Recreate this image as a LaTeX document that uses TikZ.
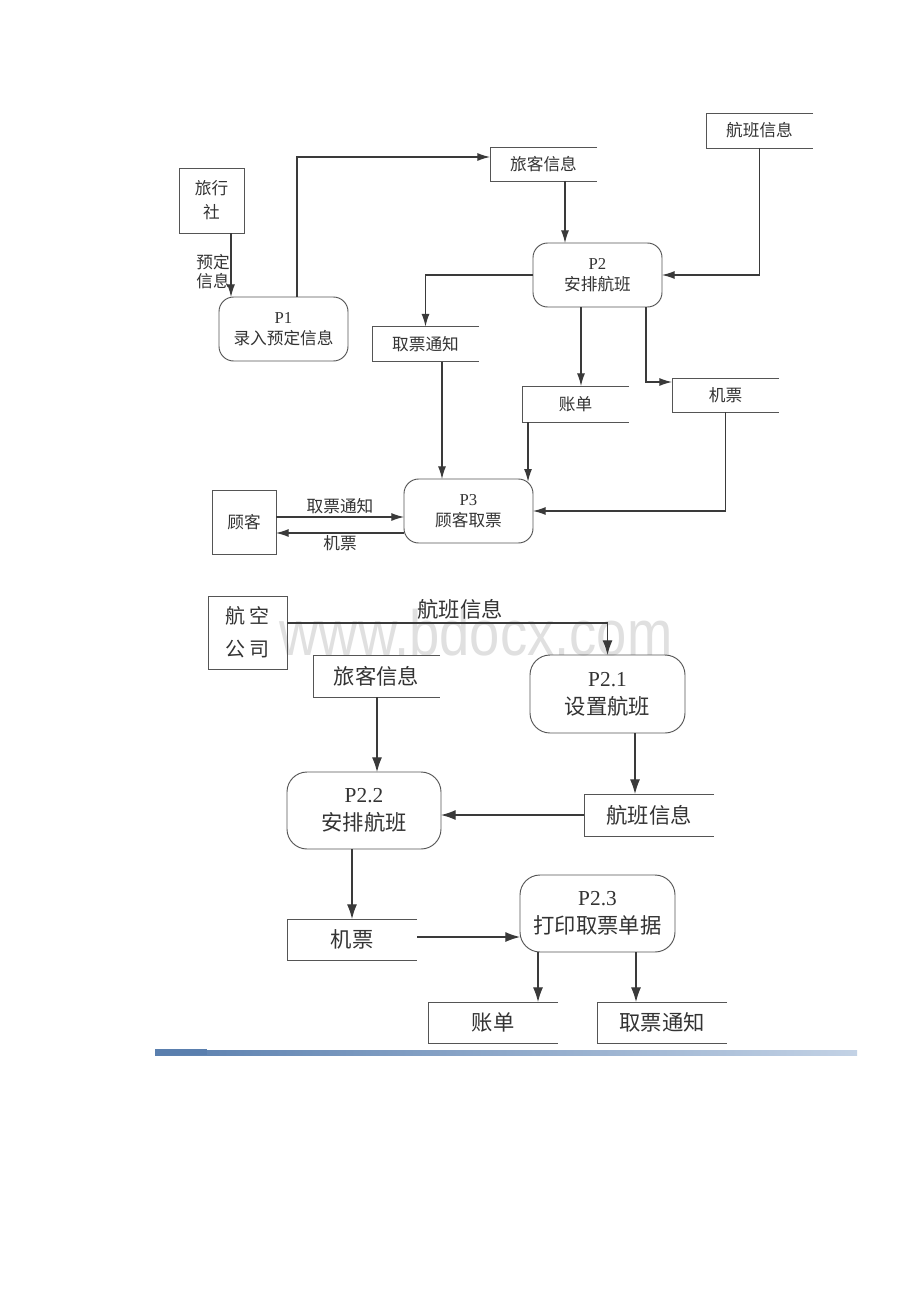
\documentclass[tikz,border=0pt]{standalone}
\usepackage{fontspec}
\setmainfont{Liberation Serif}
\newfontfamily\cjk{Noto Sans CJK SC}
\newfontfamily\wmfont{Liberation Sans}
\usetikzlibrary{arrows.meta}
\definecolor{ln}{HTML}{3A3A3A}
\definecolor{bx}{HTML}{555555}
\definecolor{tx}{HTML}{333333}
\definecolor{barL}{HTML}{5A7FAE}
\definecolor{barR}{HTML}{C3D2E5}
\tikzset{
  base/.style={inner sep=0pt, outer sep=0pt, align=center, text=tx},
  sz/.style 2 args={minimum width=#1*0.75pt, minimum height=#2*0.75pt},
  topfont/.style={font=\fontsize{12.5}{16}\selectfont},
  botfont/.style={font=\fontsize{16}{21}\selectfont},
  ext/.style={base, draw=bx, line width=0.7pt},
  proctop/.style={base, topfont, draw=bx, line width=0.7pt, rounded corners=11pt},
  procbot/.style={base, botfont, draw=bx, line width=0.7pt, rounded corners=15pt},
  store/.style={base, append after command={
      \pgfextra{\draw[bx, line width=0.7pt]
        (\tikzlastnode.north east) -- (\tikzlastnode.north west) --
        (\tikzlastnode.south west) -- (\tikzlastnode.south east);}}},
  arrt/.style={draw=ln, line width=0.9pt, -{Latex[length=9.5pt,width=6pt]}},
  arrb/.style={draw=ln, line width=0.9pt, -{Latex[length=11pt,width=7.5pt]}},
  lbl/.style={base, topfont}
}
\begin{document}
\begin{tikzpicture}[x=0.75pt,y=-0.75pt]
\fill[white] (0,0) rectangle (920,1302);
\useasboundingbox (0,0) rectangle (920,1302);

% watermark
\node[base, text=black!12, font=\wmfont\fontsize{48}{50}\selectfont, xscale=0.85] (wm) at (476,633) {www.bdocx.com};

% ---------------- top diagram ----------------
\node[ext, topfont, sz={65}{65}, font=\fontsize{12.5}{18}\selectfont] (lxs) at (211.5,200.5) {\cjk 旅行\\\cjk 社};
\node[proctop, sz={129}{64}] (p1) at (283.5,329) {P1\\{\cjk 录入预定信息}};
\node[store, topfont, sz={107}{34}] (lkxx) at (543.5,164) {\cjk 旅客信息};
\node[proctop, sz={129}{64}] (p2) at (597.5,275) {P2\\{\cjk 安排航班}};
\node[store, topfont, sz={107}{35}] (hbxx) at (759.5,130.5) {\cjk 航班信息};
\node[store, topfont, sz={107}{35}] (qptz) at (425.5,344) {\cjk 取票通知};
\node[store, topfont, sz={107}{36}] (zd) at (575.5,404) {\cjk 账单};
\node[store, topfont, sz={107}{34}] (jp) at (725.5,395) {\cjk 机票};
\node[proctop, sz={129}{64}] (p3) at (468.5,511) {P3\\{\cjk 顾客取票}};
\node[ext, topfont, sz={64}{64}] (gk) at (244,522) {\cjk 顾客};

\coordinate (c1) at (231,0);
\draw[arrt] (c1 |- lxs.south) -- (c1 |- p1.north)
  node[lbl, pos=0.6, left=1pt, font=\fontsize{12.5}{14}\selectfont] {\cjk 预定\\\cjk 信息};
\coordinate (k2) at (297,157);
\draw[arrt] (k2 |- p1.north) -- (k2) -- (k2 -| lkxx.west);
\coordinate (c3) at (565,0);
\draw[arrt] (c3 |- lkxx.south) -- (c3 |- p2.north);
\draw[arrt] (hbxx.south) |- (p2.east);
\draw[arrt] (p2.west) -| (qptz.north);
\coordinate (c6) at (581,0);
\draw[arrt] (c6 |- p2.south) -- (c6 |- zd.north);
\coordinate (k7) at (646,382);
\draw[arrt] (k7 |- p2.south) -- (k7) -- (k7 -| jp.west);
\coordinate (c8) at (442,0);
\draw[arrt] (c8 |- qptz.south) -- (c8 |- p3.north);
\coordinate (c9) at (528,0);
\draw[arrt] (c9 |- zd.south) -- ([yshift=-2pt]c9 |- p3.north);
\draw[arrt] (jp.south) |- (p3.east);
\coordinate (k11) at (0,517);
\draw[arrt] (gk.east |- k11) -- (p3.west |- k11)
  node[lbl, midway, above=2pt] {\cjk 取票通知};
\coordinate (k12) at (0,533);
\draw[arrt] (p3.west |- k12) -- (gk.east |- k12)
  node[lbl, midway, below=2pt] {\cjk 机票};

% ---------------- bottom diagram ----------------
\node[ext, sz={79}{73}, font=\fontsize{15}{25}\selectfont] (hkgs) at (247.5,632.5) {\cjk 航\,空\\\cjk 公\,司};
\node[store, botfont, sz={127}{42}] (lkxx2) at (376.5,676) {\cjk 旅客信息};
\node[procbot, sz={155}{78}] (p21) at (607.5,694) {P2.1\\{\cjk 设置航班}};
\node[store, botfont, sz={130}{42}] (hbxx2) at (649,815) {\cjk 航班信息};
\node[procbot, sz={154}{77}] (p22) at (364,810.5) {P2.2\\{\cjk 安排航班}};
\node[store, botfont, sz={130}{41}] (jp2) at (352,939.5) {\cjk 机票};
\node[procbot, sz={155}{77}] (p23) at (597.5,913.5) {P2.3\\{\cjk 打印取票单据}};
\node[store, botfont, sz={130}{41}] (zd2) at (493,1022.5) {\cjk 账单};
\node[store, botfont, sz={130}{41}] (qptz2) at (662,1022.5) {\cjk 取票通知};

\coordinate (k13) at (0,623);
\draw[arrb] (hkgs.east |- k13) -| (p21.north)
  node[base, botfont, pos=0.27, above=3pt] {\cjk 航班信息};
\coordinate (c14) at (377,0);
\draw[arrb] (c14 |- lkxx2.south) -- (c14 |- p22.north);
\coordinate (c15) at (635,0);
\draw[arrb] (c15 |- p21.south) -- (c15 |- hbxx2.north);
\draw[arrb] (hbxx2.west) -- (hbxx2.west -| p22.east);
\draw[arrb] (p22.south -| jp2.north) -- (jp2.north);
\coordinate (k18) at (0,937);
\draw[arrb] (jp2.east |- k18) -- (p23.west |- k18);
\coordinate (c19) at (538,0);
\draw[arrb] (c19 |- p23.south) -- (c19 |- zd2.north);
\coordinate (c20) at (636,0);
\draw[arrb] (c20 |- p23.south) -- (c20 |- qptz2.north);

% footer bar
\shade[left color=barL, right color=barR] (155,1050) rectangle (857,1055);
\fill[barL] (155,1049) rectangle (207,1055);
\end{tikzpicture}
\end{document}
